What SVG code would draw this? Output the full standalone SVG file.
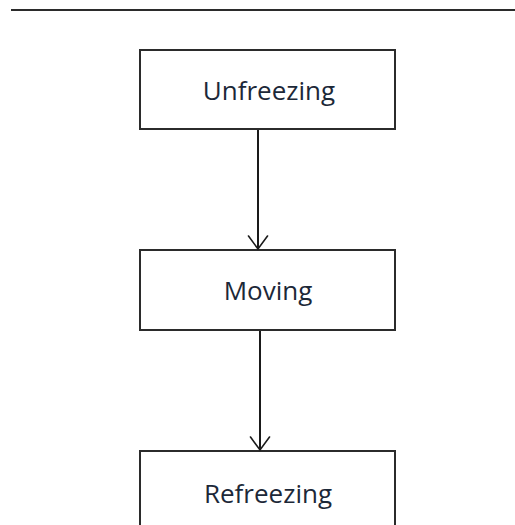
<svg xmlns="http://www.w3.org/2000/svg" width="515" height="525" viewBox="0 0 515 525">
  <defs>
    <style>
      .box { fill: #ffffff; stroke: #2b2b2b; stroke-width: 2; }
      .label { font-family: "Open Sans", "Noto Sans", "Liberation Sans", sans-serif; font-size: 26px; fill: #1c2838; text-anchor: middle; }
      .link { stroke: #1a1a1a; stroke-width: 2; fill: none; }
      .head { stroke: #1a1a1a; stroke-width: 1.6; fill: none; stroke-linecap: round; }
    </style>
  </defs>
  <rect width="515" height="525" fill="#ffffff"/>

  <!-- page rule across the top -->
  <line x1="11" y1="10" x2="515" y2="10" stroke="#2b2b2b" stroke-width="2.2"/>

  <g id="unfreezing">
    <rect class="box" x="140" y="50" width="255" height="79"/>
    <text class="label" x="269" y="100">Unfreezing</text>
  </g>

  <g id="moving">
    <rect class="box" x="140" y="250" width="255" height="80"/>
    <text class="label" x="268" y="300">Moving</text>
  </g>

  <g id="refreezing">
    <rect class="box" x="140" y="451" width="255" height="90"/>
    <text class="label" x="268" y="503">Refreezing</text>
  </g>

  <g id="connectors">
    <line class="link" x1="258" y1="130" x2="258" y2="249"/>
    <polyline class="head" points="248.5,236 258,249 267.5,236"/>
    <line class="link" x1="260" y1="331" x2="260" y2="450"/>
    <polyline class="head" points="250.5,437 260,450 269.5,437"/>
  </g>
</svg>
